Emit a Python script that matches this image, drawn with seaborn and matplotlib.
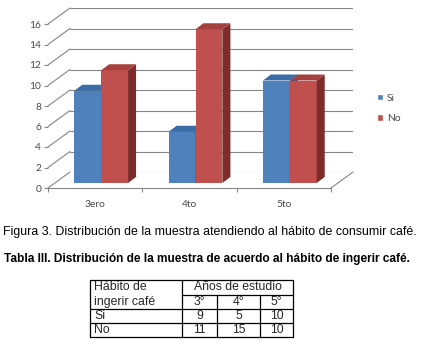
import numpy as np
import pandas as pd
import matplotlib
matplotlib.use("Agg")
import matplotlib.pyplot as plt
import matplotlib.transforms as mtransforms
from matplotlib.patches import Polygon, Patch
from matplotlib.lines import Line2D
from matplotlib.colors import to_hex
import seaborn as sns

# ---------------- data ----------------
categories = ["3ero", "4to", "5to"]
series = ["Si", "No"]
si_values = [9, 5, 10]
no_values = [11, 15, 10]
y_ticks = [0, 2, 4, 6, 8, 10, 12, 14, 16]
table_cols = ["3°", "4°", "5°"]
table_header = ["Hábito de", "ingerir café"]
table_group = "Años de estudio"
caption = "Figura 3. Distribución de la muestra atendiendo al hábito de consumir café."
title = "Tabla III. Distribución de la muestra de acuerdo al hábito de ingerir café."

# ---------------- layout ----------------
W, H, DPI = 424, 347, 100
sns.set_theme(style="white")
plt.rcParams["font.family"] = ["Liberation Sans", "DejaVu Sans"]
chart_font = ["Lato", "DejaVu Sans"]
TXT = "#4a4a4a"
GRID = "#868686"

fig = plt.figure(figsize=(W / DPI, H / DPI), dpi=DPI)
fig.patch.set_facecolor("white")

# back wall of the pseudo-3D chart
BX0, BX1, BY0, BY1 = 70, 353, 172, 8
ax = fig.add_axes([BX0 / W, 1 - BY0 / H, (BX1 - BX0) / W, (BY0 - BY1) / H])
ax.set_facecolor("none")

ppx = (BX1 - BX0) / 3.0
ppy = (BY0 - BY1) / 16.0
WDX, WDY = 22, 16          # wall depth in px
BDX, BDY = -16, -11        # bar plane offset from back wall, px
DX, DY = 8, 6              # bar depth, px

df = pd.DataFrame({
    "Año": categories * 2,
    "Hábito": [series[0]] * len(categories) + [series[1]] * len(categories),
    "Valor": si_values + no_values,
})
palette = {"Si": "#4F81BD", "No": "#C0504D"}
side_col = {"Si": "#2E5A8C", "No": "#7D2C2A"}
top_col = {"Si": "#3B6CA6", "No": "#A4403D"}

sns.barplot(data=df, x="Año", y="Valor", hue="Hábito", hue_order=series,
            palette=palette, width=0.57, linewidth=0, saturation=1,
            errorbar=None, legend=False, ax=ax)

off_bar = mtransforms.ScaledTranslation(BDX / DPI, BDY / DPI, fig.dpi_scale_trans)
tr_bar = ax.transData + off_bar
dx, dy = DX / ppx, DY / ppy
for p in list(ax.patches):
    x0, w, h = p.get_x(), p.get_width(), p.get_height()
    hue = "Si" if to_hex(p.get_facecolor()) == to_hex(palette["Si"]) else "No"
    z = 2 if hue == "Si" else 3
    p.set_transform(tr_bar)
    p.set_zorder(z)
    p.set_clip_on(False)
    side = Polygon([(x0 + w, 0), (x0 + w, h), (x0 + w + dx, h + dy), (x0 + w + dx, dy)],
                   closed=True, facecolor=side_col[hue], lw=0, zorder=z,
                   transform=tr_bar, clip_on=False)
    top = Polygon([(x0, h), (x0 + w, h), (x0 + w + dx, h + dy), (x0 + dx, h + dy)],
                  closed=True, facecolor=top_col[hue], lw=0, zorder=z,
                  transform=tr_bar, clip_on=False)
    ax.add_patch(side)
    ax.add_patch(top)

# walls
wdx, wdy = WDX / ppx, WDY / ppy
for v in y_ticks:
    ax.plot([-0.5, -0.5 - wdx], [v, v - wdy], color=GRID, lw=0.8, clip_on=False, zorder=1)
ax.plot([-0.5 - wdx, 2.5 - wdx], [-wdy, -wdy], color=GRID, lw=0.8, clip_on=False, zorder=1)
ax.plot([2.5, 2.5 - wdx], [0, -wdy], color=GRID, lw=0.8, clip_on=False, zorder=1)

ax.set_xlim(-0.5, 2.5)
ax.set_ylim(0, 16)
for s in ax.spines.values():
    s.set_visible(False)
ax.set_xlabel("")
ax.set_ylabel("")
ax.set_axisbelow(True)
ax.grid(axis="y", color=GRID, lw=0.8)
ax.grid(axis="x", visible=False)

ax.set_yticks(y_ticks)
ax.set_xticks(range(len(categories)))
ax.set_xticklabels(categories)
ax.set_xticks([-0.5, 0.5, 1.5, 2.5], minor=True)
ax.tick_params(axis="y", which="major", left=True, length=2.9, width=0.8, color=GRID,
               labelsize=7.4, labelcolor=TXT, pad=2)
ax.tick_params(axis="x", which="major", bottom=True, length=0, pad=8.3,
               labelsize=7.4, labelcolor=TXT)
ax.tick_params(axis="x", which="minor", bottom=True, length=2.9, width=0.8, color=GRID)
for lab in ax.get_yticklabels() + ax.get_xticklabels():
    lab.set_family(chart_font)

off_front = mtransforms.ScaledTranslation(-WDX / DPI, -WDY / DPI, fig.dpi_scale_trans)
for lab in ax.get_yticklabels() + ax.get_xticklabels():
    lab.set_transform(lab.get_transform() + off_front)
for t in ax.yaxis.get_major_ticks() + ax.xaxis.get_minor_ticks():
    t.tick1line.set_transform(t.tick1line.get_transform() + off_front)

handles = [Patch(facecolor=palette[s], label=s) for s in series]
fig.legend(handles=handles, loc="center left", bbox_to_anchor=(377 / W, 1 - 108.5 / H),
           frameon=False, handlelength=0.6, handleheight=0.6, handletextpad=0.35,
           labelspacing=1.1, borderaxespad=0, borderpad=0,
           prop={"family": chart_font, "size": 7.4}, labelcolor=TXT)

# ---------------- captions ----------------
fig.text(3 / W, 1 - 232 / H, caption, ha="left", va="center", fontsize=8.9, color="black")
fig.text(4 / W, 1 - 259 / H, title, ha="left", va="center", fontsize=8.6,
         fontweight="bold", color="black")

# ---------------- table ----------------
def fx(px):
    return px / W

def fy(py):
    return 1 - py / H

def hline(x0, x1, y):
    fig.add_artist(Line2D([fx(x0), fx(x1)], [fy(y), fy(y)], color="black", lw=0.9))

def vline(x, y0, y1):
    fig.add_artist(Line2D([fx(x), fx(x)], [fy(y0), fy(y1)], color="black", lw=0.9))

xe = [90, 182, 217, 260, 293]
ye = [280, 295, 309, 323, 337]
hline(xe[0], xe[-1], ye[0])
hline(xe[1], xe[-1], ye[1])
hline(xe[0], xe[-1], ye[2])
hline(xe[0], xe[-1], ye[3])
hline(xe[0], xe[-1], ye[4])
vline(xe[0], ye[0], ye[4])
vline(xe[1], ye[0], ye[4])
vline(xe[2], ye[1], ye[4])
vline(xe[3], ye[1], ye[4])
vline(xe[4], ye[0], ye[4])

TF = 8.8
TX = 94
fig.text(fx(TX), fy((ye[0] + ye[1]) / 2), table_header[0], ha="left", va="center", fontsize=TF)
fig.text(fx(TX), fy((ye[1] + ye[2]) / 2), table_header[1], ha="left", va="center", fontsize=TF)
fig.text(fx((xe[1] + xe[4]) / 2), fy((ye[0] + ye[1]) / 2), table_group, ha="center",
         va="center", fontsize=TF)
for j, c in enumerate(table_cols):
    cx = (xe[j + 1] + xe[j + 2]) / 2
    fig.text(fx(cx), fy((ye[1] + ye[2]) / 2), c, ha="center", va="center", fontsize=TF)
rows = [(series[0], si_values), (series[1], no_values)]
for i, (name, vals) in enumerate(rows):
    cy = (ye[2 + i] + ye[3 + i]) / 2
    fig.text(fx(TX), fy(cy), name, ha="left", va="center", fontsize=TF)
    for j, v in enumerate(vals):
        cx = (xe[j + 1] + xe[j + 2]) / 2
        fig.text(fx(cx), fy(cy), str(v), ha="center", va="center", fontsize=TF)

fig.savefig("out.png", dpi=DPI, facecolor="white")
